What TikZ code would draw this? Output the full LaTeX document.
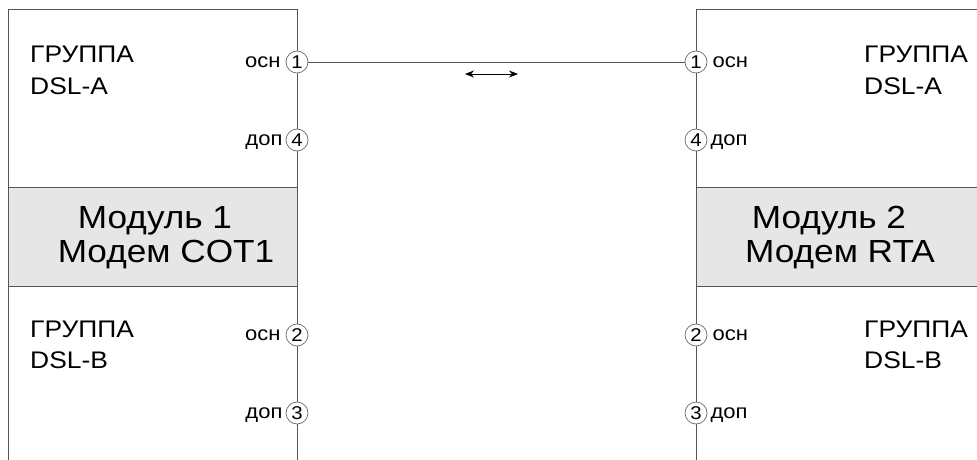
\documentclass[tikz,border=0pt]{standalone}
\usepackage{fontspec}
\setmainfont{Liberation Sans}[FakeStretch=1.1]
\usetikzlibrary{arrows.meta,calc}
\definecolor{linegray}{HTML}{555555}
\definecolor{circgray}{HTML}{6A6A6A}
\definecolor{bandgray}{HTML}{E6E6E6}
\begin{document}
\begin{tikzpicture}[x=1pt,y=-1pt,
  port/.style={circle,draw=circgray,fill=white,line width=0.7pt,minimum size=22pt,inner sep=0pt,font=\fontsize{18.5}{18.5}\selectfont},
  grp/.style={anchor=base west,inner sep=0pt,font=\fontsize{24}{24}\selectfont},
  modtxt/.style={anchor=base,inner sep=0pt,font=\fontsize{32}{32}\selectfont},
  lbl/.style={inner sep=0pt,font=\fontsize{20}{20}\selectfont},
  boxline/.style={draw=linegray,line width=1pt},
  biarrow/.style={{Stealth[length=9pt,width=7pt]}-{Stealth[length=9pt,width=7pt]},line width=0.8pt,black}]
\useasboundingbox (0,0) rectangle (977,460);
% left module
\fill[bandgray] (8,187) rectangle (297,286);
\draw[boxline] (8,460) -- (8,10) -- (297,10) -- (297,460);
\draw[boxline] (8,187) -- (297,187);
\draw[boxline] (8,286) -- (297,286);
% right module
\fill[bandgray] (696,187) rectangle (977,286);
\draw[boxline] (977,10) -- (696,10) -- (696,460);
\draw[boxline] (696,187) -- (977,187);
\draw[boxline] (696,286) -- (977,286);
% texts left
\node[grp] (lga1) at (30,63) {ГРУППА};
\node[grp] (lga2) at (30,95) {DSL-A};
\node[grp] (lgb1) at (30,337) {ГРУППА};
\node[grp] (lgb2) at (30,368) {DSL-B};
\node[modtxt] (lm1) at (155,228) {Модуль 1};
\node[modtxt] (lm2) at (166,262) {Модем COT1};
% texts right
\node[grp] (rga1) at (864,63) {ГРУППА};
\node[grp] (rga2) at (864,95) {DSL-A};
\node[grp] (rgb1) at (864,337) {ГРУППА};
\node[grp] (rgb2) at (864,368) {DSL-B};
\node[modtxt] (rm1) at (829,228) {Модуль 2};
\node[modtxt] (rm2) at (840,262) {Модем RTA};
% ports left
\node[port] (L1) at (297,62) {1};
\node[port] (L4) at (297,140) {4};
\node[port] (L2) at (297,335) {2};
\node[port] (L3) at (297,413) {3};
% ports right
\node[port] (R1) at (696,62) {1};
\node[port] (R4) at (696,140) {4};
\node[port] (R2) at (696,335) {2};
\node[port] (R3) at (696,413) {3};
% port labels
\node[lbl,anchor=base east] (L1t) at ($(L1.west)+(-5,5)$) {осн};
\node[lbl,anchor=base east] (L4t) at ($(L4.west)+(-3,5)$) {доп};
\node[lbl,anchor=base east] (L2t) at ($(L2.west)+(-5,5)$) {осн};
\node[lbl,anchor=base east] (L3t) at ($(L3.west)+(-3,5)$) {доп};
\node[lbl,anchor=base west] (R1t) at ($(R1.east)+(5,5)$) {осн};
\node[lbl,anchor=base west] (R4t) at ($(R4.east)+(3,5)$) {доп};
\node[lbl,anchor=base west] (R2t) at ($(R2.east)+(5,5)$) {осн};
\node[lbl,anchor=base west] (R3t) at ($(R3.east)+(3,5)$) {доп};
% link
\draw[boxline,line width=0.8pt] (L1) -- (R1);
\coordinate (a1) at (465,74);
\coordinate (a2) at (518,74);
\draw[biarrow] (a1) -- (a2);
\end{tikzpicture}
\end{document}
